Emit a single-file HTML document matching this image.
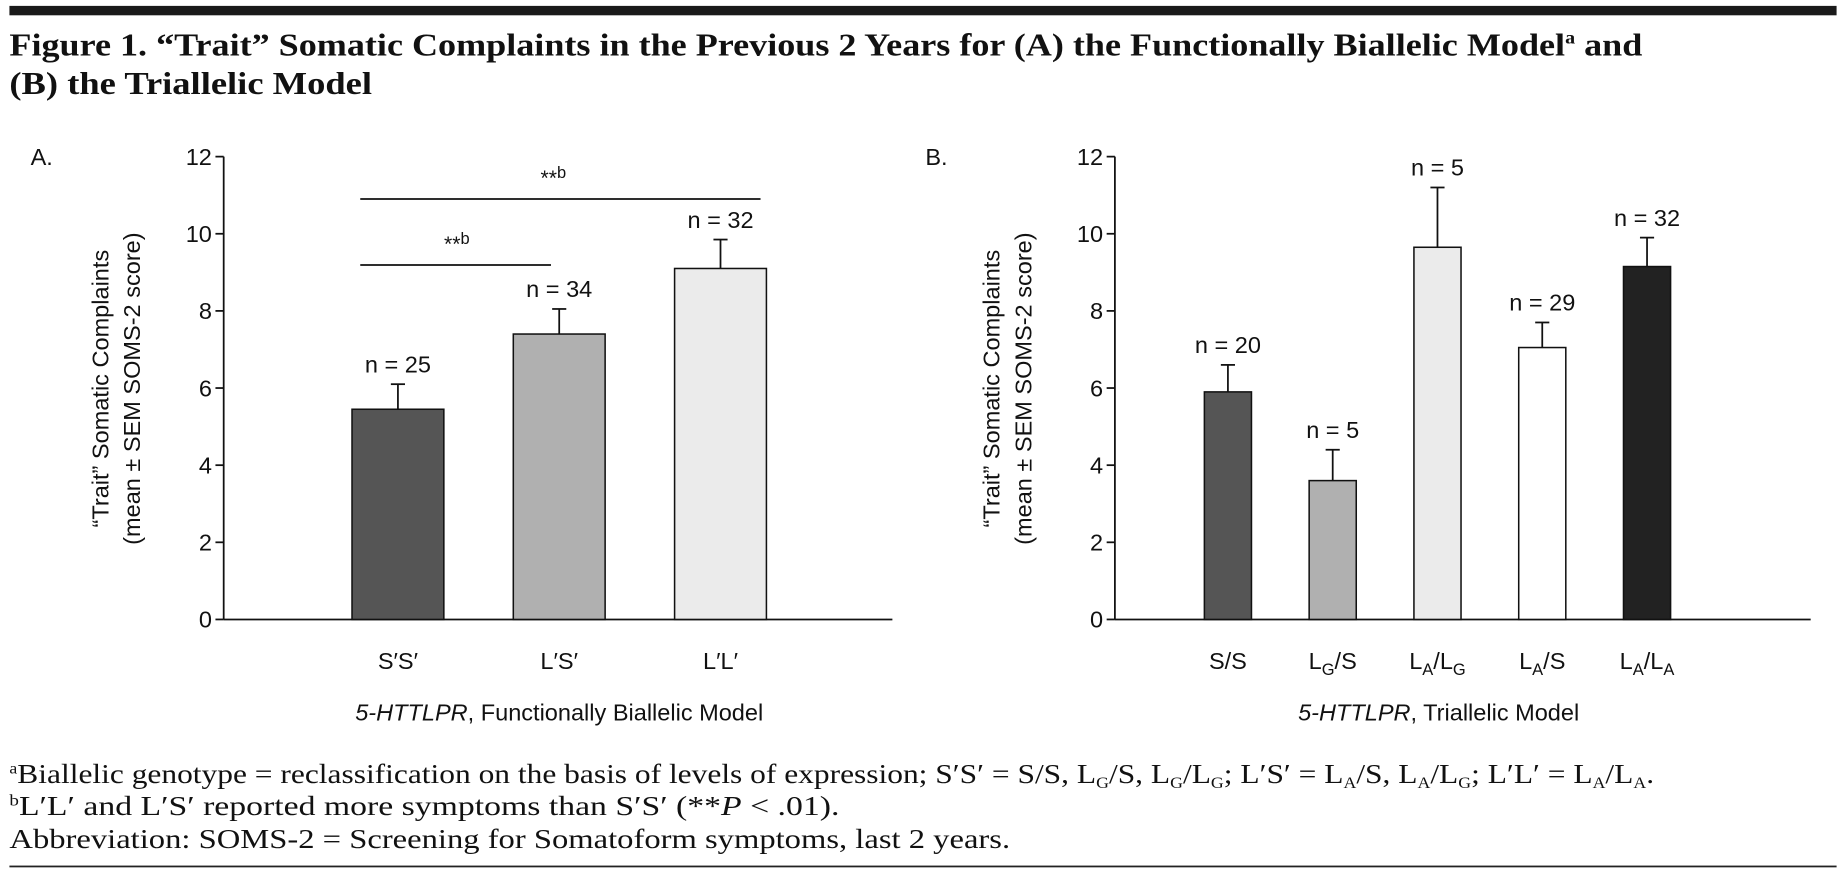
<!DOCTYPE html>
<html><head><meta charset="utf-8"><style>
html,body{margin:0;padding:0;background:#fff;}
svg{display:block;}
.serif{font-family:"Liberation Serif",serif;}
.sans{font-family:"Liberation Sans",sans-serif;}
</style></head><body>
<svg id="fig" width="1846" height="875" viewBox="0 0 1568 743" preserveAspectRatio="none" xmlns="http://www.w3.org/2000/svg">
<rect x="8" y="5" width="1552" height="8" fill="#1a1a1a"/>
<text class="serif" x="8" y="47" font-size="27" font-weight="bold" fill="#111" textLength="1387" lengthAdjust="spacingAndGlyphs">Figure 1. “Trait” Somatic Complaints in the Previous 2 Years for (A) the Functionally Biallelic Model<tspan font-size="15" dy="-10">a</tspan><tspan dy="10"> and</tspan></text>
<text class="serif" x="8" y="80" font-size="27" font-weight="bold" fill="#111" textLength="308" lengthAdjust="spacingAndGlyphs">(B) the Triallelic Model</text>
<g id="chartA"></g>
<g id="chartB"></g>
<g class="serif" font-size="23" fill="#111">
<text x="8" y="665" textLength="1397" lengthAdjust="spacingAndGlyphs"><tspan font-size="13" dy="-8">a</tspan><tspan dy="8">Biallelic genotype = reclassification on the basis of levels of expression; S′S′ = S/S, L</tspan><tspan font-size="13" dy="4">G</tspan><tspan dy="-4">/S, L</tspan><tspan font-size="13" dy="4">G</tspan><tspan dy="-4">/L</tspan><tspan font-size="13" dy="4">G</tspan><tspan dy="-4">; L′S′ = L</tspan><tspan font-size="13" dy="4">A</tspan><tspan dy="-4">/S, L</tspan><tspan font-size="13" dy="4">A</tspan><tspan dy="-4">/L</tspan><tspan font-size="13" dy="4">G</tspan><tspan dy="-4">; L′L′ = L</tspan><tspan font-size="13" dy="4">A</tspan><tspan dy="-4">/L</tspan><tspan font-size="13" dy="4">A</tspan><tspan dy="-4">.</tspan></text>
<text x="8" y="692" textLength="705" lengthAdjust="spacingAndGlyphs"><tspan font-size="13" dy="-8">b</tspan><tspan dy="8">L′L′ and L′S′ reported more symptoms than S′S′ (**</tspan><tspan font-style="italic">P</tspan><tspan> &lt; .01).</tspan></text>
<text x="8" y="720" textLength="850" lengthAdjust="spacingAndGlyphs">Abbreviation: SOMS-2 = Screening for Somatoform symptoms, last 2 years.</text>
</g>
<rect x="8" y="735" width="1552" height="1.5" fill="#222"/>
</svg>
<script>
const NS="http://www.w3.org/2000/svg";
const yTicks=[0,2,4,6,8,10,12];
const catsA=["S′S′","L′S′","L′L′"];
const meansA=[5.45,7.4,9.1];
const errsA=[0.65,0.65,0.75];
const nLabelsA=["n = 25","n = 34","n = 32"];
const colorsA=["#555555","#b0b0b0","#ebebeb"];
const catsB=[["S/S"],["L","G","/S"],["L","A","/L","G"],["L","A","/S"],["L","A","/L","A"]];
const meansB=[5.9,3.6,9.65,7.05,9.15];
const errsB=[0.7,0.8,1.55,0.65,0.75];
const nLabelsB=["n = 20","n = 5","n = 5","n = 29","n = 32"];
const colorsB=["#555555","#b0b0b0","#ebebeb","#ffffff","#222222"];

function mk(parent,tag,attrs,text){const e=document.createElementNS(NS,tag);for(const k in attrs)e.setAttribute(k,attrs[k]);if(text!=null)e.textContent=text;parent.appendChild(e);return e;}
const y0=526,y12=133;
function yS(v){return y0-(v/12)*(y0-y12);}

function draw(g,opt){
  const ax=opt.axisX;
  let e=mk(g,"line",{x1:ax,y1:y12,x2:ax,y2:y0,stroke:"#111","stroke-width":1.5});
  
  
  e=mk(g,"line",{x1:ax,y1:y0,x2:opt.axisEnd,y2:y0,stroke:"#111","stroke-width":1.5});
  
  
  yTicks.forEach(t=>{
    const l=mk(g,"line",{x1:ax-7,y1:yS(t),x2:ax,y2:yS(t),stroke:"#111","stroke-width":1.5});
    
    
    const tx=mk(g,"text",{x:ax-10,y:yS(t)+7,"text-anchor":"end","font-size":20,"class":"sans",fill:"#111"},String(t));
    
    
  });
  e=mk(g,"text",{x:opt.panelX,y:140,"font-size":20,"class":"sans",fill:"#111"},opt.panel);
  
  
  const cy=330;
  e=mk(g,"text",{transform:`translate(${opt.titleX},${cy}) rotate(-90)`,"text-anchor":"middle","font-size":20,"class":"sans",fill:"#111"},"“Trait” Somatic Complaints");
  
  
  e=mk(g,"text",{transform:`translate(${opt.titleX+27},${cy}) rotate(-90)`,"text-anchor":"middle","font-size":20,"class":"sans",fill:"#111"},"(mean ± SEM SOMS-2 score)");
  
  
  opt.means.forEach((m,i)=>{
    const cx=opt.first+i*opt.step, w=opt.barW;
    const top=yS(m), et=yS(m+opt.errs[i]);
    const el=mk(g,"line",{x1:cx,y1:top,x2:cx,y2:et,stroke:"#111","stroke-width":1.5});
    
    
    const cp=mk(g,"line",{x1:cx-6,y1:et,x2:cx+6,y2:et,stroke:"#111","stroke-width":1.5});
    
    
    const r=mk(g,"rect",{x:cx-w/2,y:top,width:w,height:y0-top,fill:opt.colors[i],stroke:"#111","stroke-width":1.3});
    
    
    const n=mk(g,"text",{x:cx,y:et-10,"text-anchor":"middle","font-size":20,"class":"sans",fill:"#111"},opt.nl[i]);
    
    
    const c=opt.cats[i];
    const t=mk(g,"text",{x:cx,y:568,"text-anchor":"middle","font-size":20,"class":"sans",fill:"#111"});
    
    
    if(typeof c==="string"){t.textContent=c;}
    else{c.forEach((p,k)=>{const sub=k%2===1;mk(t,"tspan",sub?{"font-size":14,dy:5}:(k>0?{dy:-5}:{}),p);});}
  });
  e=mk(g,"text",{x:opt.xtX,y:612,"text-anchor":"middle","font-size":20,"class":"sans",fill:"#111"});
  
  
  mk(e,"tspan",{"font-style":"italic"},"5-HTTLPR");
  mk(e,"tspan",{},", "+opt.xt);
}
const gA=document.getElementById("chartA");
draw(gA,{axisX:190,axisEnd:758,panel:"A.",panelX:26,titleX:92,first:338,step:137,barW:78,means:meansA,errs:errsA,colors:colorsA,nl:nLabelsA,cats:catsA,xtX:475,xt:"Functionally Biallelic Model"});
const gB=document.getElementById("chartB");
draw(gB,{axisX:947,axisEnd:1538,panel:"B.",panelX:786,titleX:849,first:1043,step:89,barW:40,means:meansB,errs:errsB,colors:colorsB,nl:nLabelsB,cats:catsB,xtX:1222,xt:"Triallelic Model"});
[[306,646,169,470],[306,468,225,388]].forEach(s=>{
  const l=mk(gA,"line",{x1:s[0],y1:s[2],x2:s[1],y2:s[2],stroke:"#111","stroke-width":1.5});
  
  
  const t=mk(gA,"text",{x:s[3],y:s[2]-12,"text-anchor":"middle","font-size":18,"class":"sans",fill:"#111"},"**");
  
  
  mk(t,"tspan",{"font-size":14,dy:-6},"b");
});
</script>
</body></html>
